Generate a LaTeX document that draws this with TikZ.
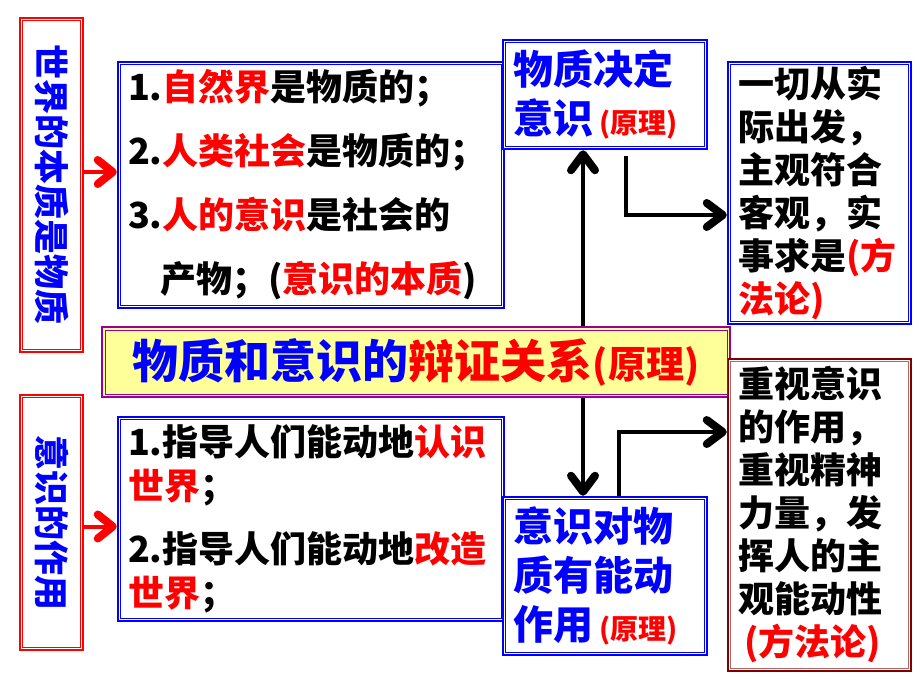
\documentclass[tikz,border=0pt]{standalone}
\usepackage{fontspec}
\setmainfont{Noto Sans CJK SC}
\usetikzlibrary{arrows.meta,positioning}
\definecolor{titlefill}{RGB}{255,255,153}
\definecolor{titledraw}{RGB}{153,0,153}
\definecolor{darkbox}{RGB}{128,0,0}
\tikzset{
  box/.style={draw=blue,line width=2.5pt,fill=white,inner sep=0pt,inner xsep=10pt,
    align=left,font=\bfseries\fontsize{36}{43}\selectfont},
  sidebox/.style={draw=red,line width=2.5pt,fill=white,minimum width=63pt},
  sidetext/.style={rotate=-90,text=blue,font=\bfseries\fontsize{35}{35}\selectfont},
  keybox/.style={box,text=blue,minimum width=204pt,text width=184pt,
    font=\bfseries\fontsize{40}{49}\selectfont},
  redarr/.style={red,line width=4pt,
    -{Straight Barb[length=15pt,width=24pt,line width=8pt,round]}},
  blackarr/.style={line width=4pt,
    -{Straight Barb[length=16pt,width=24pt,line width=8pt,round]}}
}
\newcommand{\hl}[1]{\textcolor{red}{#1}}
\newcommand{\yuanli}{{\fontsize{28}{28}\selectfont\hl{(原理)}}}

\begin{document}
\begin{tikzpicture}[x=1pt,y=-1pt]
  \useasboundingbox (0,0) rectangle (920,690);
  % left column
  \node[sidebox,minimum height=334pt] (w1) at (51.5,185) {};
  \node[sidetext] (w1t) at (w1) {世界的本质是物质};
  \node[sidebox,minimum height=255pt] (w2) at (51.5,522.5) {};
  \node[sidetext] (w2t) at (w2) {意识的作用};
  % lists
  \node[box,minimum width=386pt,text width=366pt,minimum height=246pt,
    font=\bfseries\fontsize{36}{64}\selectfont] (a) at (311,185)
    {1.\hl{自然界}是物质的；\\
     2.\hl{人类社会}是物质的；\\
     3.\hl{人的意识}是社会的\\
     \hspace*{32pt}产物；(\hl{意识的本质})};
  \node[box,minimum width=386pt,text width=366pt,minimum height=204pt,
    font=\bfseries\fontsize{36}{44}\selectfont] (d) at (311,519)
    {1.指导人们能动地\hl{认识}\\
     \hl{世界}；\\[19pt]
     2.指导人们能动地\hl{改造}\\
     \hl{世界}；};
  % principles
  \node[keybox,minimum height=109pt] (b) at (605,94.5)
    {物质决定\\意识\,\yuanli};
  \node[keybox,minimum height=158pt] (e) at (605,576)
    {意识对物\\质有能动\\作用\,\yuanli};
  % methods
  \node[box,minimum width=183pt,text width=163pt,minimum height=262pt] (c) at (819.5,193)
    {一切从实\\际出发，\\主观符合\\客观，实\\事求是\hl{(方}\\\hl{法论)}};
  % title
  \node[box,draw=titledraw,fill=titlefill,line width=2pt,align=center,
    minimum width=628pt,minimum height=70pt,font=\bfseries\fontsize{46}{46}\selectfont]
    (m) at (416,362)
    {\textcolor{blue}{物质和意识的}\hl{辩证关系}{\fontsize{38}{38}\selectfont\hl{(原理)}}};
  \node[box,draw=darkbox,minimum width=183pt,text width=163pt,minimum height=312pt] (f)
    at (819.5,515)
    {重视意识\\的作用，\\重视精神\\力量，发\\挥人的主\\观能动性\\\hspace*{6pt}\hl{(方法论)}};
  % inner frame lines
  \foreach \n/\c in {w1/red,w2/red,a/blue,b/blue,c/blue,d/blue,e/blue,m/titledraw,f/darkbox!60}
    \draw[\c,line width=1pt] ([shift={(4pt,-4pt)}]\n.north west)
      rectangle ([shift={(-4pt,4pt)}]\n.south east);
  % arrows
  \draw[redarr] ([yshift=13pt]w1.east) -- ([yshift=13pt]w1.east -| a.west);
  \draw[redarr] ([yshift=-4pt]w2.east) -- ([yshift=-4pt]w2.east -| d.west);
  \draw[blackarr] ([xshift=-22pt]b.south |- m.north) -- ([xshift=-22pt]b.south);
  \draw[blackarr] ([xshift=-22pt]e.north |- m.south) -- ([xshift=-22pt]e.north);
  \draw[blackarr] ([xshift=21pt,yshift=-6pt]b.south) |- ([yshift=-22pt]c.west);
  \draw[blackarr] ([xshift=14pt]e.north) |- ([yshift=83pt]f.west);
\end{tikzpicture}
\end{document}
